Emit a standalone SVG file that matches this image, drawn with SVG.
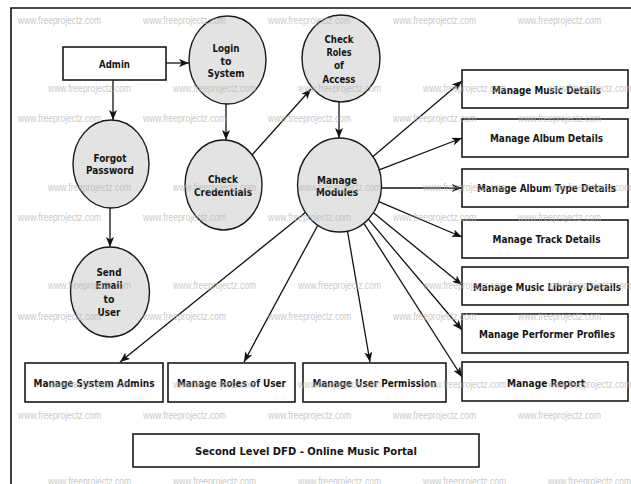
<svg xmlns="http://www.w3.org/2000/svg" width="631" height="484" viewBox="0 0 631 484">
<style>
.box{fill:#fff;stroke:#1a1a1a;stroke-width:1.6}
.proc{fill:#e3e3e3;stroke:#1a1a1a;stroke-width:1.4}
.lbl{font-family:"DejaVu Sans","Liberation Sans",sans-serif;font-weight:bold;font-size:10.5px;fill:#161616;text-anchor:middle}
.edge{fill:none;stroke:#111;stroke-width:1.3;marker-end:url(#arr)}
.wm{font-family:"Liberation Sans","DejaVu Sans",sans-serif;font-size:10px;fill:#b8b8b8;opacity:0.75}
.frame{fill:none;stroke:#111;stroke-width:1.6}
</style>
<defs>
<marker id="arr" viewBox="0 0 10 8" refX="10" refY="4" markerWidth="10" markerHeight="8" markerUnits="userSpaceOnUse" orient="auto">
<path d="M0,0 L10,4 L0,8 L2.5,4 z" fill="#111"/>
</marker>
</defs>
<rect width="631" height="484" fill="#fff"/>
<path class="frame" d="M11,484 L11,8 L631,8"/>

<g id="connectors">
<path class="edge" d="M166,63 L189,63"/>
<path class="edge" d="M113,80 L113,120"/>
<path class="edge" d="M226,104 L226,140"/>
<path class="edge" d="M252,155 L311,89"/>
<path class="edge" d="M339,102 L339,138"/>
<path class="edge" d="M110,208 L110,247"/>
<path class="edge" d="M373,156.6 L462,81"/>
<path class="edge" d="M379.2,169.8 L462,138"/>
<path class="edge" d="M381.4,188 L462,188"/>
<path class="edge" d="M378.8,201.7 L462,237"/>
<path class="edge" d="M373.4,212.7 L462,285"/>
<path class="edge" d="M368.3,219.2 L462,330"/>
<path class="edge" d="M363.9,223.3 L462,377"/>
<path class="edge" d="M347.5,231.1 L370,362"/>
<path class="edge" d="M317.8,225.2 L244,362"/>
<path class="edge" d="M305.4,212.5 L120,362"/>
</g>

<g id="admin">
<rect class="box" x="63" y="47" width="103" height="33"/>
<text class="lbl" x="114.5" y="67.5" textLength="31" lengthAdjust="spacingAndGlyphs">Admin</text>
</g>
<g id="login">
<ellipse class="proc" cx="227.5" cy="60" rx="38.5" ry="44"/>
<text class="lbl" x="226" y="52" textLength="27" lengthAdjust="spacingAndGlyphs">Login</text>
<text class="lbl" x="226" y="65" textLength="11" lengthAdjust="spacingAndGlyphs">to</text>
<text class="lbl" x="226" y="77" textLength="37" lengthAdjust="spacingAndGlyphs">System</text>
</g>
<g id="forgot">
<ellipse class="proc" cx="111" cy="164" rx="38" ry="44"/>
<text class="lbl" x="110" y="162" textLength="33" lengthAdjust="spacingAndGlyphs">Forgot</text>
<text class="lbl" x="110" y="174" textLength="48" lengthAdjust="spacingAndGlyphs">Password</text>
</g>
<g id="checkcred">
<ellipse class="proc" cx="223.5" cy="185" rx="38.5" ry="45"/>
<text class="lbl" x="223" y="183" textLength="30" lengthAdjust="spacingAndGlyphs">Check</text>
<text class="lbl" x="223" y="196" textLength="58" lengthAdjust="spacingAndGlyphs">Credentials</text>
</g>
<g id="checkroles">
<ellipse class="proc" cx="341" cy="58.5" rx="39" ry="43.5"/>
<text class="lbl" x="339" y="43" textLength="29" lengthAdjust="spacingAndGlyphs">Check</text>
<text class="lbl" x="339" y="56" textLength="25" lengthAdjust="spacingAndGlyphs">Roles</text>
<text class="lbl" x="339" y="69" textLength="10" lengthAdjust="spacingAndGlyphs">of</text>
<text class="lbl" x="339" y="83" textLength="33" lengthAdjust="spacingAndGlyphs">Access</text>
</g>
<g id="modules">
<ellipse class="proc" cx="339.5" cy="185" rx="42" ry="47"/>
<text class="lbl" x="337" y="184" textLength="40" lengthAdjust="spacingAndGlyphs">Manage</text>
<text class="lbl" x="337" y="196" textLength="42" lengthAdjust="spacingAndGlyphs">Modules</text>
</g>
<g id="sendemail">
<ellipse class="proc" cx="110" cy="292" rx="39.5" ry="45"/>
<text class="lbl" x="109" y="276" textLength="25" lengthAdjust="spacingAndGlyphs">Send</text>
<text class="lbl" x="109" y="289" textLength="27" lengthAdjust="spacingAndGlyphs">Email</text>
<text class="lbl" x="109" y="303" textLength="11" lengthAdjust="spacingAndGlyphs">to</text>
<text class="lbl" x="109" y="316" textLength="23" lengthAdjust="spacingAndGlyphs">User</text>
</g>

<g id="music">
<rect class="box" x="462" y="70" width="166" height="38"/>
<text class="lbl" x="546.5" y="94" textLength="109" lengthAdjust="spacingAndGlyphs">Manage Music Details</text>
</g>
<g id="album">
<rect class="box" x="462" y="119" width="166" height="38"/>
<text class="lbl" x="546.5" y="142" textLength="113" lengthAdjust="spacingAndGlyphs">Manage Album Details</text>
</g>
<g id="albumtype">
<rect class="box" x="462" y="169" width="166" height="38"/>
<text class="lbl" x="546.5" y="192" textLength="139" lengthAdjust="spacingAndGlyphs">Manage Album Type Details</text>
</g>
<g id="track">
<rect class="box" x="462" y="220" width="166" height="38"/>
<text class="lbl" x="546.5" y="243" textLength="108" lengthAdjust="spacingAndGlyphs">Manage Track Details</text>
</g>
<g id="library">
<rect class="box" x="462" y="267" width="166" height="38"/>
<text class="lbl" x="547" y="291" textLength="148" lengthAdjust="spacingAndGlyphs">Manage Music Library Details</text>
</g>
<g id="performer">
<rect class="box" x="462" y="314" width="166" height="39"/>
<text class="lbl" x="547" y="338" textLength="136" lengthAdjust="spacingAndGlyphs">Manage Performer Profiles</text>
</g>
<g id="report">
<rect class="box" x="462" y="362" width="166" height="39"/>
<text class="lbl" x="546" y="387" textLength="78" lengthAdjust="spacingAndGlyphs">Manage Report</text>
</g>
<g id="sysadmins">
<rect class="box" x="25" y="363" width="138" height="39"/>
<text class="lbl" x="94" y="387" textLength="121" lengthAdjust="spacingAndGlyphs">Manage System Admins</text>
</g>
<g id="rolesofuser">
<rect class="box" x="168" y="363" width="127" height="39"/>
<text class="lbl" x="231.5" y="387" textLength="109" lengthAdjust="spacingAndGlyphs">Manage Roles of User</text>
</g>
<g id="permission">
<rect class="box" x="303" y="363" width="143" height="39"/>
<text class="lbl" x="374.5" y="387" textLength="124" lengthAdjust="spacingAndGlyphs">Manage User Permission</text>
</g>
<g id="title">
<rect class="box" x="133" y="434" width="346" height="33"/>
<text class="lbl" x="306" y="455" textLength="222" lengthAdjust="spacingAndGlyphs">Second Level DFD - Online Music Portal</text>
</g>

<g id="watermark">
<text class="wm" x="18" y="23.5" textLength="83" lengthAdjust="spacingAndGlyphs">www.freeprojectz.com</text>
<text class="wm" x="143" y="23.5" textLength="83" lengthAdjust="spacingAndGlyphs">www.freeprojectz.com</text>
<text class="wm" x="268" y="23.5" textLength="83" lengthAdjust="spacingAndGlyphs">www.freeprojectz.com</text>
<text class="wm" x="393" y="23.5" textLength="83" lengthAdjust="spacingAndGlyphs">www.freeprojectz.com</text>
<text class="wm" x="518" y="23.5" textLength="83" lengthAdjust="spacingAndGlyphs">www.freeprojectz.com</text>
<text class="wm" x="48" y="91.5" textLength="83" lengthAdjust="spacingAndGlyphs">www.freeprojectz.com</text>
<text class="wm" x="173" y="91.5" textLength="83" lengthAdjust="spacingAndGlyphs">www.freeprojectz.com</text>
<text class="wm" x="298" y="91.5" textLength="83" lengthAdjust="spacingAndGlyphs">www.freeprojectz.com</text>
<text class="wm" x="423" y="91.5" textLength="83" lengthAdjust="spacingAndGlyphs">www.freeprojectz.com</text>
<text class="wm" x="548" y="91.5" textLength="83" lengthAdjust="spacingAndGlyphs">www.freeprojectz.com</text>
<text class="wm" x="18" y="121.5" textLength="83" lengthAdjust="spacingAndGlyphs">www.freeprojectz.com</text>
<text class="wm" x="143" y="121.5" textLength="83" lengthAdjust="spacingAndGlyphs">www.freeprojectz.com</text>
<text class="wm" x="268" y="121.5" textLength="83" lengthAdjust="spacingAndGlyphs">www.freeprojectz.com</text>
<text class="wm" x="393" y="121.5" textLength="83" lengthAdjust="spacingAndGlyphs">www.freeprojectz.com</text>
<text class="wm" x="518" y="121.5" textLength="83" lengthAdjust="spacingAndGlyphs">www.freeprojectz.com</text>
<text class="wm" x="48" y="190.5" textLength="83" lengthAdjust="spacingAndGlyphs">www.freeprojectz.com</text>
<text class="wm" x="173" y="190.5" textLength="83" lengthAdjust="spacingAndGlyphs">www.freeprojectz.com</text>
<text class="wm" x="298" y="190.5" textLength="83" lengthAdjust="spacingAndGlyphs">www.freeprojectz.com</text>
<text class="wm" x="423" y="190.5" textLength="83" lengthAdjust="spacingAndGlyphs">www.freeprojectz.com</text>
<text class="wm" x="548" y="190.5" textLength="83" lengthAdjust="spacingAndGlyphs">www.freeprojectz.com</text>
<text class="wm" x="18" y="220.5" textLength="83" lengthAdjust="spacingAndGlyphs">www.freeprojectz.com</text>
<text class="wm" x="143" y="220.5" textLength="83" lengthAdjust="spacingAndGlyphs">www.freeprojectz.com</text>
<text class="wm" x="268" y="220.5" textLength="83" lengthAdjust="spacingAndGlyphs">www.freeprojectz.com</text>
<text class="wm" x="393" y="220.5" textLength="83" lengthAdjust="spacingAndGlyphs">www.freeprojectz.com</text>
<text class="wm" x="518" y="220.5" textLength="83" lengthAdjust="spacingAndGlyphs">www.freeprojectz.com</text>
<text class="wm" x="48" y="288.5" textLength="83" lengthAdjust="spacingAndGlyphs">www.freeprojectz.com</text>
<text class="wm" x="173" y="288.5" textLength="83" lengthAdjust="spacingAndGlyphs">www.freeprojectz.com</text>
<text class="wm" x="298" y="288.5" textLength="83" lengthAdjust="spacingAndGlyphs">www.freeprojectz.com</text>
<text class="wm" x="423" y="288.5" textLength="83" lengthAdjust="spacingAndGlyphs">www.freeprojectz.com</text>
<text class="wm" x="548" y="288.5" textLength="83" lengthAdjust="spacingAndGlyphs">www.freeprojectz.com</text>
<text class="wm" x="18" y="319.5" textLength="83" lengthAdjust="spacingAndGlyphs">www.freeprojectz.com</text>
<text class="wm" x="143" y="319.5" textLength="83" lengthAdjust="spacingAndGlyphs">www.freeprojectz.com</text>
<text class="wm" x="268" y="319.5" textLength="83" lengthAdjust="spacingAndGlyphs">www.freeprojectz.com</text>
<text class="wm" x="393" y="319.5" textLength="83" lengthAdjust="spacingAndGlyphs">www.freeprojectz.com</text>
<text class="wm" x="518" y="319.5" textLength="83" lengthAdjust="spacingAndGlyphs">www.freeprojectz.com</text>
<text class="wm" x="48" y="387.5" textLength="83" lengthAdjust="spacingAndGlyphs">www.freeprojectz.com</text>
<text class="wm" x="173" y="387.5" textLength="83" lengthAdjust="spacingAndGlyphs">www.freeprojectz.com</text>
<text class="wm" x="298" y="387.5" textLength="83" lengthAdjust="spacingAndGlyphs">www.freeprojectz.com</text>
<text class="wm" x="423" y="387.5" textLength="83" lengthAdjust="spacingAndGlyphs">www.freeprojectz.com</text>
<text class="wm" x="548" y="387.5" textLength="83" lengthAdjust="spacingAndGlyphs">www.freeprojectz.com</text>
<text class="wm" x="18" y="418.5" textLength="83" lengthAdjust="spacingAndGlyphs">www.freeprojectz.com</text>
<text class="wm" x="143" y="418.5" textLength="83" lengthAdjust="spacingAndGlyphs">www.freeprojectz.com</text>
<text class="wm" x="268" y="418.5" textLength="83" lengthAdjust="spacingAndGlyphs">www.freeprojectz.com</text>
<text class="wm" x="393" y="418.5" textLength="83" lengthAdjust="spacingAndGlyphs">www.freeprojectz.com</text>
<text class="wm" x="518" y="418.5" textLength="83" lengthAdjust="spacingAndGlyphs">www.freeprojectz.com</text>
<text class="wm" x="48" y="485" textLength="83" lengthAdjust="spacingAndGlyphs">www.freeprojectz.com</text>
<text class="wm" x="173" y="485" textLength="83" lengthAdjust="spacingAndGlyphs">www.freeprojectz.com</text>
<text class="wm" x="298" y="485" textLength="83" lengthAdjust="spacingAndGlyphs">www.freeprojectz.com</text>
<text class="wm" x="423" y="485" textLength="83" lengthAdjust="spacingAndGlyphs">www.freeprojectz.com</text>
<text class="wm" x="548" y="485" textLength="83" lengthAdjust="spacingAndGlyphs">www.freeprojectz.com</text>
</g>
</svg>
